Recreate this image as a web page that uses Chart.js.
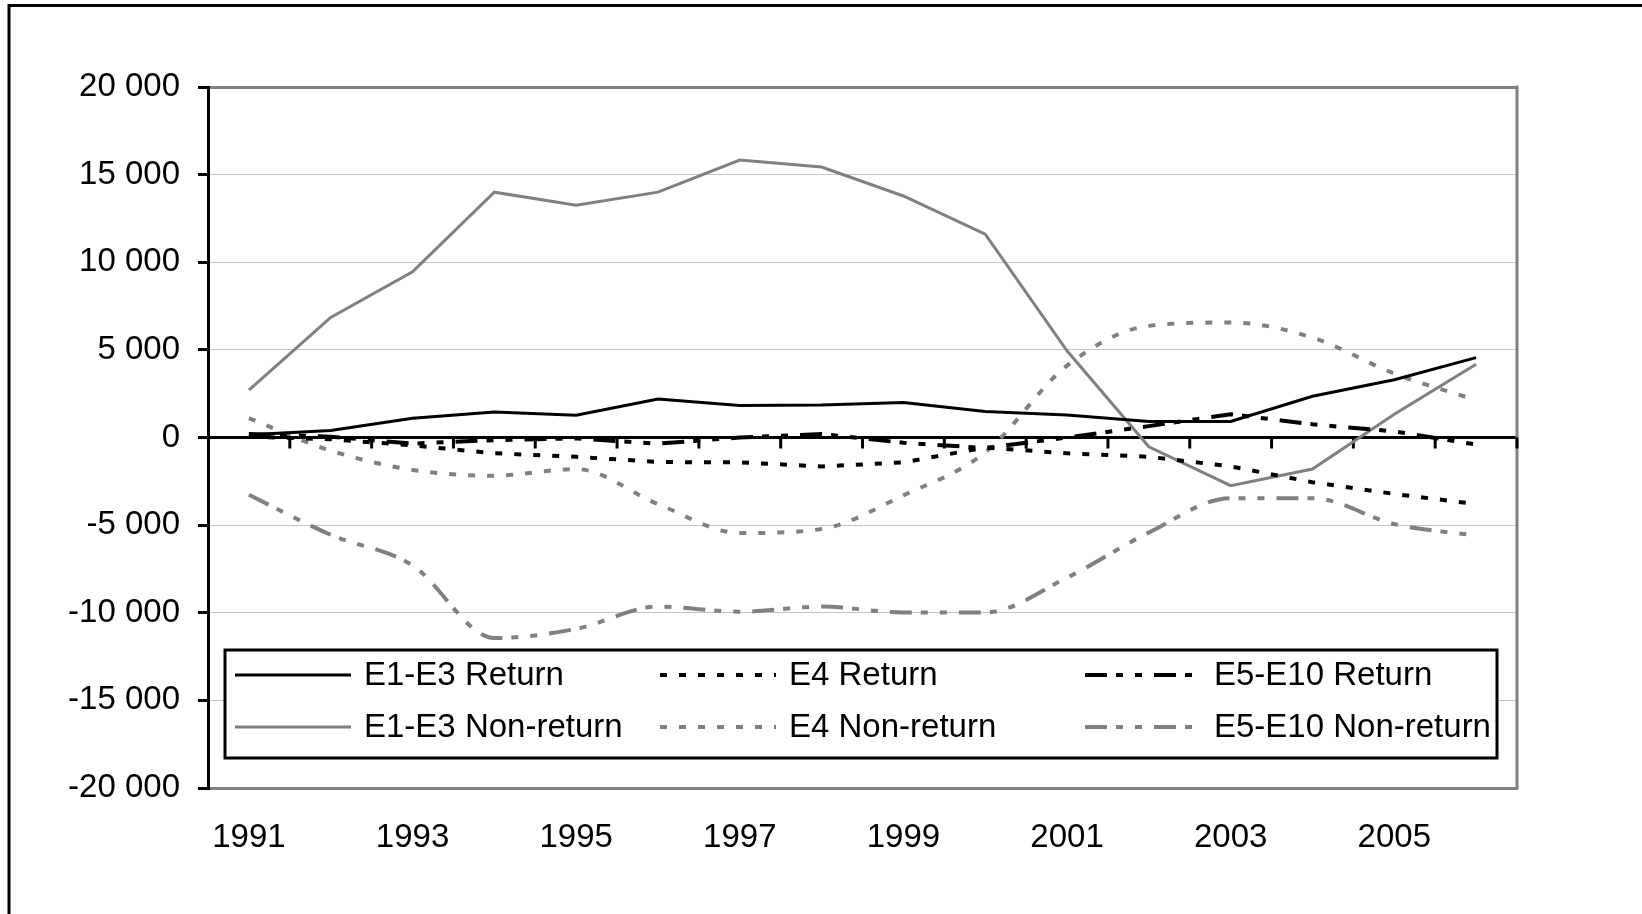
<!DOCTYPE html>
<html>
<head>
<meta charset="utf-8">
<title>Return / Non-return</title>
<script src="https://cdn.jsdelivr.net/npm/chart.js@4.4.1/dist/chart.umd.min.js"></script>
<style>
    html, body { margin: 0; padding: 0; background: #fff; }
    canvas { display: block; }
</style>
</head>
<body>
<canvas id="flowChart" width="1642" height="914"></canvas>
<script>
// values
const years = ['1991', '1992', '1993', '1994', '1995', '1996', '1997', '1998',
               '1999', '2000', '2001', '2002', '2003', '2004', '2005', '2006'];

const e1e3Return    = [150, 400, 1100, 1450, 1270, 2200, 1820, 1850, 2000, 1480, 1290, 910, 910, 2350, 3300, 4560];
const e4Return      = [50, -100, -450, -900, -1100, -1400, -1420, -1650, -1420, -570, -900, -1100, -1650, -2550, -3220, -3800];
const e5e10Return   = [200, 50, -350, -150, -50, -350, 0, 200, -300, -600, 0, 650, 1330, 750, 350, -400];
const e1e3NonReturn = [2700, 6850, 9450, 14000, 13250, 14000, 15830, 15430, 13780, 11600, 4950, -530, -2750, -1800, 1330, 4180];
const e4NonReturn   = [1100, -750, -1850, -2180, -1800, -3800, -5450, -5220, -3300, -850, 4100, 6370, 6560, 5700, 3650, 2130];
const e5e10NonReturn = [-3270, -5550, -7300, -11440, -10920, -9650, -9940, -9650, -9980, -9980, -8000, -5420, -3460, -3460, -4940, -5600];

const yMin = -20000, yMax = 20000, yStep = 5000;

const BLACK = '#000000';
const GREY  = '#808080';
const FONT  = '"Liberation Sans", Arial, sans-serif';
const dotted  = [7, 12];
const dashDot = [22, 9, 7, 12, 7, 12];

function fmt(v) {
    const s = String(Math.abs(v)).replace(/\B(?=(\d{3})+(?!\d))/g, ' ');
    return v < 0 ? '-' + s : s;
}

// outer frame, plot frame and the zero axis with its tick marks
const frames = {
    id: 'frames',
    beforeDraw(chart) {
        const ctx = chart.ctx;
        ctx.save();
        ctx.strokeStyle = BLACK;
        ctx.lineWidth = 3;
        ctx.beginPath();
        ctx.moveTo(9, chart.height + 5);
        ctx.lineTo(9, 5.5);
        ctx.lineTo(chart.width + 5, 5.5);
        ctx.stroke();
        ctx.restore();
    },
    beforeDatasetsDraw(chart) {
        const { ctx, chartArea } = chart;
        const x = chart.scales.x, y = chart.scales.y;
        ctx.save();
        ctx.strokeStyle = GREY;
        ctx.lineWidth = 3;
        ctx.beginPath();
        ctx.moveTo(chartArea.right, chartArea.top - 1.5);
        ctx.lineTo(chartArea.right, chartArea.bottom + 1.5);
        ctx.stroke();

        const y0 = y.getPixelForValue(0);
        const half = (x.getPixelForValue(1) - x.getPixelForValue(0)) / 2;
        ctx.strokeStyle = BLACK;
        ctx.beginPath();
        for (let i = 0; i < years.length; i++) {
            const bx = x.getPixelForValue(i) + half;
            ctx.moveTo(bx, y0);
            ctx.lineTo(bx, y0 + 11);
        }
        ctx.stroke();
        ctx.restore();
    }
};

// legend box sitting inside the plot
const boxLegend = {
    id: 'boxLegend',
    afterDatasetsDraw(chart) {
        const { ctx, chartArea } = chart;
        const left = chartArea.left + 17, right = chartArea.right - 20;
        const top = chartArea.bottom - 138, bottom = chartArea.bottom - 30;
        ctx.save();
        ctx.fillStyle = '#fff';
        ctx.fillRect(left, top, right - left, bottom - top);
        ctx.strokeStyle = BLACK;
        ctx.lineWidth = 3;
        ctx.strokeRect(left, top, right - left, bottom - top);
        ctx.font = '33px ' + FONT;
        ctx.textBaseline = 'middle';
        chart.data.datasets.forEach((ds, i) => {
            const sx = left + 10 + (i % 3) * 425;
            const sy = top + 25 + Math.floor(i / 3) * 52;
            ctx.beginPath();
            ctx.setLineDash(ds.borderDash || []);
            ctx.strokeStyle = ds.borderColor;
            ctx.lineWidth = ds.borderWidth;
            ctx.moveTo(sx, sy);
            ctx.lineTo(sx + 116, sy);
            ctx.stroke();
            ctx.setLineDash([]);
            ctx.fillStyle = BLACK;
            ctx.fillText(ds.label, sx + 129, sy + 1);
        });
        ctx.restore();
    }
};

new Chart(document.getElementById('flowChart'), {
    type: 'line',
    data: {
        labels: years,
        datasets: [
            { label: 'E1-E3 Return', data: e1e3Return, borderColor: BLACK, borderWidth: 3, tension: 0 },
            { label: 'E4 Return', data: e4Return, borderColor: BLACK, borderWidth: 4, borderDash: dotted, tension: 0 },
            { label: 'E5-E10 Return', data: e5e10Return, borderColor: BLACK, borderWidth: 4, borderDash: dashDot, tension: 0 },
            { label: 'E1-E3 Non-return', data: e1e3NonReturn, borderColor: GREY, borderWidth: 3, tension: 0 },
            { label: 'E4 Non-return', data: e4NonReturn, borderColor: GREY, borderWidth: 4, borderDash: dotted, cubicInterpolationMode: 'monotone' },
            { label: 'E5-E10 Non-return', data: e5e10NonReturn, borderColor: GREY, borderWidth: 4, borderDash: dashDot, cubicInterpolationMode: 'monotone' }
        ]
    },
    options: {
        responsive: false,
        animation: false,
        devicePixelRatio: 1,
        layout: { padding: { left: 0, top: 87, right: 125, bottom: 0 } },
        elements: { point: { radius: 0 }, line: { fill: false, borderCapStyle: 'butt' } },
        plugins: {
            legend: { display: false },
            tooltip: { enabled: false }
        },
        scales: {
            x: {
                type: 'category',
                offset: true,
                afterFit: s => { s.height = 126; },
                grid: { display: false, drawTicks: false },
                border: { display: true, color: GREY, width: 3 },
                ticks: {
                    autoSkip: false,
                    maxRotation: 0,
                    padding: 30,
                    color: BLACK,
                    font: { family: FONT, size: 33 },
                    callback: function (val, idx) {
                        return idx % 2 === 0 ? this.getLabelForValue(val) : '';
                    }
                }
            },
            y: {
                min: yMin,
                max: yMax,
                afterFit: s => { s.width = 208; },
                border: { display: true, color: BLACK, width: 3 },
                grid: {
                    color: c => c.tick.value === 0 ? BLACK : (Math.abs(c.tick.value) === yMax ? GREY : '#c4c4c4'),
                    lineWidth: c => (c.tick.value === 0 || Math.abs(c.tick.value) === yMax) ? 3 : 1,
                    tickColor: BLACK,
                    tickWidth: 3,
                    tickLength: 10
                },
                ticks: {
                    stepSize: yStep,
                    padding: 18,
                    color: BLACK,
                    font: { family: FONT, size: 33 },
                    callback: v => fmt(v)
                }
            }
        }
    },
    plugins: [frames, boxLegend]
});
</script>
</body>
</html>
